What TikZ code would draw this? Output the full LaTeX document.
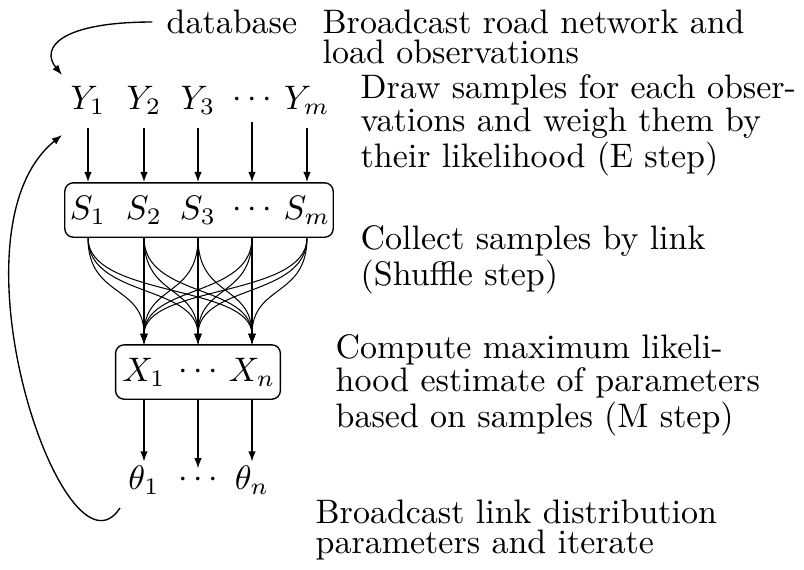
\documentclass[tikz,border=0pt]{standalone}
\usetikzlibrary{positioning,arrows.meta}
\begin{document}
\begin{tikzpicture}[
  x=0.01034cm, y=-0.01034cm,
  var/.style={inner sep=1pt},
  grp/.style={draw, rounded corners=2.5pt, line width=0.4pt},
  arr/.style={-{Latex[length=3pt,width=2.2pt]}, line width=0.4pt},
  mix/.style={arr, line width=0.3pt},
  note/.style={align=left, anchor=west, inner sep=0pt, font=\fontsize{10pt}{8.8pt}\selectfont}
]
\useasboundingbox (0,0) rectangle (804,570);

% groups
\node[grp, minimum width=79pt, minimum height=16pt] (sbox) at (199,210) {};
\node[grp, minimum width=48.5pt, minimum height=16pt] (xbox) at (198,372) {};

% observations and samples
\foreach \i/\x/\lab in {1/88/1, 2/144/2, 3/198/3, 5/307/m} {
  \node[var] (y\i) at (\x,100) {$Y_{\lab}$};
  \node[var] (s\i) at (\x,210) {$S_{\lab}$};
}
\node[var] (y4) at (252,100) {$\cdots$};
\node[var] (s4) at (252,210) {$\cdots$};

% links and parameters
\node[var] (x1) at (144,372) {$X_1$};
\node[var] (x2) at (198,372) {$\cdots$};
\node[var] (x3) at (252,372) {$X_n$};
\node[var] (t1) at (144,480) {$\theta_1$};
\node[var] (t2) at (198,480) {$\cdots$};
\node[var] (t3) at (252,480) {$\theta_n$};

\foreach \i in {1,...,5}
  \draw[arr, shorten <=3pt] (y\i) -- (y\i |- sbox.north);

% shuffle
\foreach \i in {1,...,5}
  \foreach \j in {1,2,3}
    \draw[mix] (s\i |- sbox.south) .. controls +(0,60) and +(0,-60) .. (x\j |- xbox.north);

\foreach \j in {1,2,3}
  \draw[arr] (x\j |- xbox.south) -- (t\j);

% database and feedback
\node[anchor=west, inner sep=0pt] (db) at (166,22) {database};
\coordinate (dbin) at (62,75);
\draw[arr, shorten <=4pt] (db) .. controls (60,22) and (40,48) .. (dbin);
\coordinate (back) at (120,508);
\coordinate (yin) at (62,135);
\draw[arr] (back) .. controls (65,592) and (-58,232) .. (yin);

% steps
\node[note] (n1) at (322,37) {Broadcast road network and\\load observations};
\node[note] (n2) at (360,125) {Draw samples for each obser-\\vations and weigh them by\\their likelihood (E step)};
\node[note] (n3) at (360,260) {Collect samples by link\\(Shuffle step)};
\node[note] (n4) at (335,385) {Compute maximum likeli-\\hood estimate of parameters\\based on samples (M step)};
\node[note] (n5) at (315,530) {Broadcast link distribution\\parameters and iterate};
\end{tikzpicture}
\end{document}
